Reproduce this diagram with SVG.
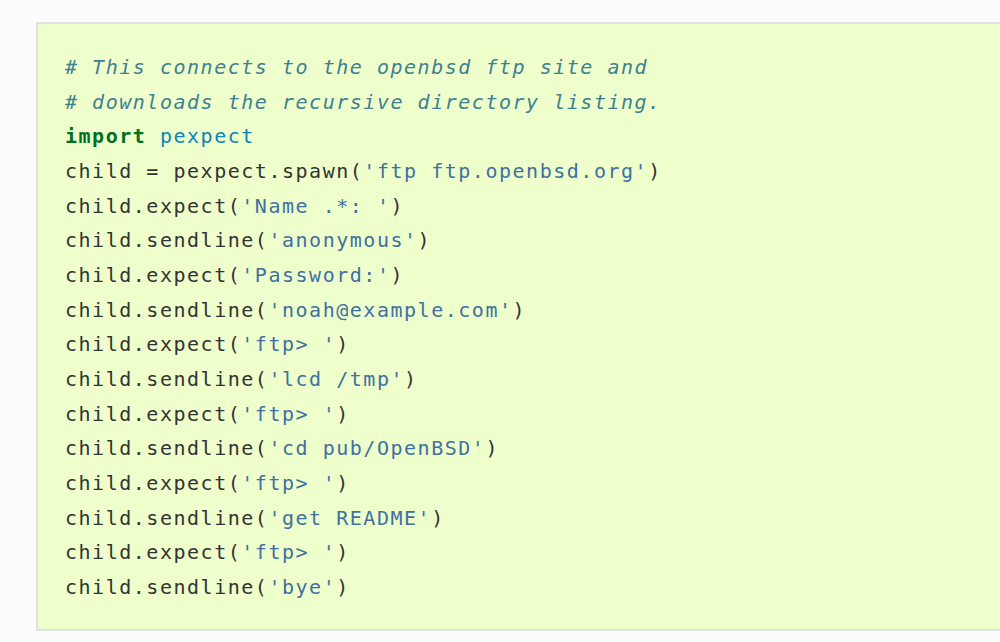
<svg xmlns="http://www.w3.org/2000/svg" width="1000" height="642" viewBox="0 0 1000 642">
<style>
.code{font-family:"DejaVu Sans Mono","Liberation Mono",monospace;font-size:20px;letter-spacing:1.52px;fill:#333333;white-space:pre}
.c{fill:#408090;font-style:italic}
.k{fill:#007020;font-weight:bold}
.nn{fill:#0e84b5}
.s{fill:#4070a0}
</style>
<rect x="0" y="0" width="1000" height="642" fill="#fcfcfd"/>
<rect id="codebox" x="37" y="23" width="980" height="607" fill="#eeffcc" stroke="#dde2e8" stroke-width="2"/>
<g id="code" class="code">
<text x="65" y="74"><tspan class="c"># This connects to the openbsd ftp site and</tspan></text>
<text x="65" y="108.7"><tspan class="c"># downloads the recursive directory listing.</tspan></text>
<text x="65" y="143.3"><tspan class="k">import</tspan> <tspan class="nn">pexpect</tspan></text>
<text x="65" y="178">child = pexpect.spawn(<tspan class="s">'ftp ftp.openbsd.org'</tspan>)</text>
<text x="65" y="212.7">child.expect(<tspan class="s">'Name .*: '</tspan>)</text>
<text x="65" y="247.3">child.sendline(<tspan class="s">'anonymous'</tspan>)</text>
<text x="65" y="282">child.expect(<tspan class="s">'Password:'</tspan>)</text>
<text x="65" y="316.7">child.sendline(<tspan class="s">'noah@example.com'</tspan>)</text>
<text x="65" y="351.3">child.expect(<tspan class="s">'ftp> '</tspan>)</text>
<text x="65" y="386">child.sendline(<tspan class="s">'lcd /tmp'</tspan>)</text>
<text x="65" y="420.7">child.expect(<tspan class="s">'ftp> '</tspan>)</text>
<text x="65" y="455.3">child.sendline(<tspan class="s">'cd pub/OpenBSD'</tspan>)</text>
<text x="65" y="490">child.expect(<tspan class="s">'ftp> '</tspan>)</text>
<text x="65" y="524.7">child.sendline(<tspan class="s">'get README'</tspan>)</text>
<text x="65" y="559.3">child.expect(<tspan class="s">'ftp> '</tspan>)</text>
<text x="65" y="594">child.sendline(<tspan class="s">'bye'</tspan>)</text>
</g>
</svg>
